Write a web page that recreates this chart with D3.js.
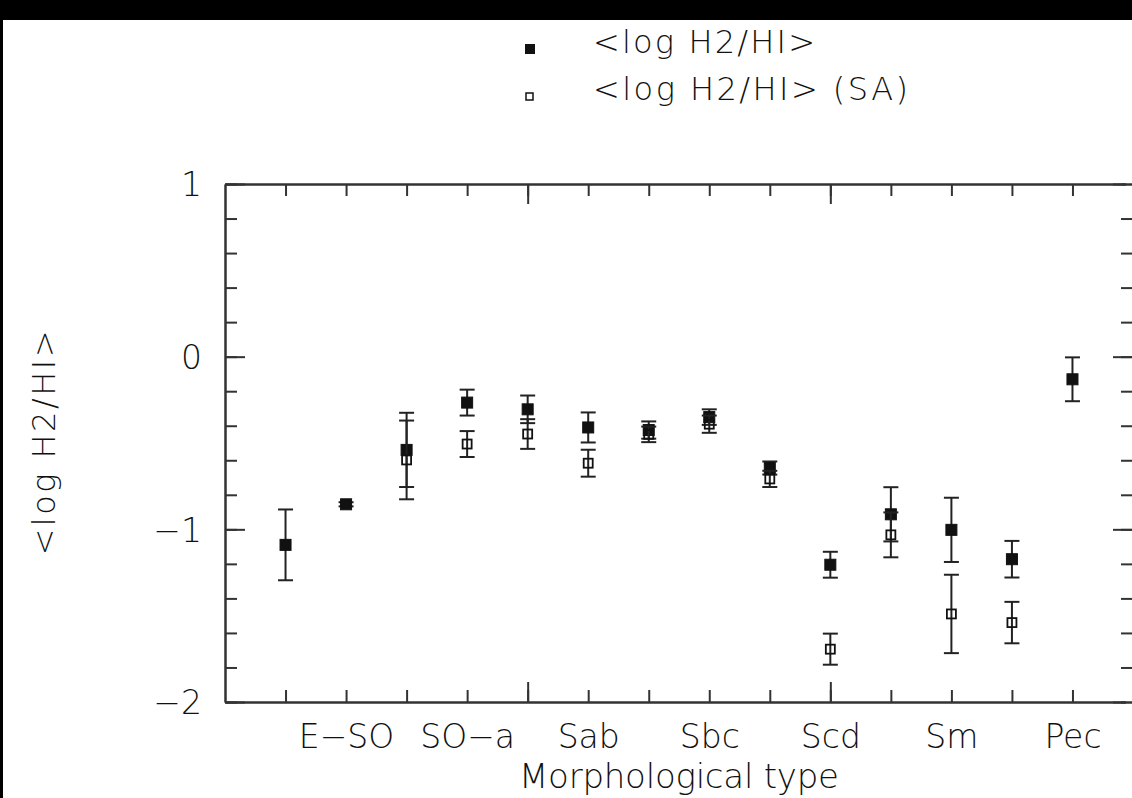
<!DOCTYPE html>
<html>
    <head>
        <title>log H2/HI by morphological type</title>
        <meta charset="utf-8">
        <script src="https://d3js.org/d3.v7.min.js"></script>
        <style>
            body{
                margin: 0;
                background: #fff;
                overflow: hidden;
            }
            svg{
                display: block;
            }
            svg text{
                font-family: 'DejaVu Sans', 'Liberation Sans', sans-serif;
                font-weight: 200;
                fill: #111;
            }
            .axis path, .axis line{
                stroke: #333;
                stroke-width: 2;
            }
        </style>
    </head>
    <body>
    <svg id="viz" width="1132" height="798"></svg>
    <script>
        // morphological type index (1..14) and the labels under every second one
        var types = [1, 2, 3, 4, 5, 6, 7, 8, 9, 10, 11, 12, 13, 14];
        var labelPos = [2, 4, 6, 8, 10, 12, 14];
        var labelNames = ["E\u2212SO", "SO\u2212a", "Sab", "Sbc", "Scd", "Sm", "Pec"];

        // <log H2/HI>, all galaxies
        var meanVals = [-1.09, -0.855, -0.54, -0.266, -0.305, -0.41, -0.425, -0.35, -0.645, -1.205, -0.913, -1.003, -1.173, -0.131];
        var meanErr  = [0.205, 0.012, 0.215, 0.075, 0.08, 0.087, 0.05, 0.045, 0.038, 0.075, 0.157, 0.186, 0.106, 0.127];

        // <log H2/HI> (SA)
        var saTypes = [3, 4, 5, 6, 7, 8, 9, 10, 11, 12, 13];
        var saVals  = [-0.598, -0.506, -0.448, -0.617, -0.45, -0.391, -0.708, -1.694, -1.032, -1.49, -1.54];
        var saErr   = [0.228, 0.075, 0.086, 0.078, 0.045, 0.05, 0.047, 0.09, 0.13, 0.227, 0.12];

        var yMajor = [-2, -1, 0, 1];
        var xMajor = [5, 10];

        var svg = d3.select("#viz");
        // black frame of the original scan (top band + thin left strip)
        svg.append("rect").attr("x", 0).attr("y", 0).attr("width", 1132).attr("height", 20).attr("fill", "#000");
        svg.append("rect").attr("x", 0).attr("y", 0).attr("width", 3).attr("height", 798).attr("fill", "#000");

        var x = d3.scaleLinear().domain([0, 15]).range([225, 1133]);
        var y = d3.scaleLinear().domain([-2, 1]).range([702, 184]);
        var yMinor = d3.range(-2, 1.001, 0.2);

        // AXES

        function addAxis(axis, tx, ty){
            return svg.append("g")
                .attr("class", "axis")
                .attr("transform", "translate(" + tx + "," + ty + ")")
                .call(axis);
        }

        addAxis(d3.axisBottom(x).tickValues(types).tickSize(-12).tickSizeOuter(0).tickFormat(""), 0, y(-2));
        addAxis(d3.axisBottom(x).tickValues(xMajor).tickSize(-20).tickSizeOuter(0).tickFormat(""), 0, y(-2));
        addAxis(d3.axisTop(x).tickValues(types).tickSize(-12).tickSizeOuter(0).tickFormat(""), 0, y(1));
        addAxis(d3.axisTop(x).tickValues(xMajor).tickSize(-20).tickSizeOuter(0).tickFormat(""), 0, y(1));
        addAxis(d3.axisLeft(y).tickValues(yMinor).tickSize(-12).tickSizeOuter(0).tickFormat(""), x(0), 0);

        var yLab = addAxis(d3.axisLeft(y).tickValues(yMajor).tickSize(-20).tickSizeOuter(0).tickPadding(23).tickFormat(d3.format("d")), x(0), 0);
        yLab.selectAll("text").attr("font-size", 33).attr("dy", "0.36em");

        var xLab = addAxis(d3.axisBottom(x).tickValues(labelPos).tickSize(0).tickSizeOuter(0)
            .tickFormat(function(d){ return labelNames[labelPos.indexOf(d)]; }), 0, y(-2));
        xLab.select(".domain").remove();
        xLab.selectAll("text").attr("font-size", 33).attr("y", 46).attr("dy", 0);

        svg.append("text")
            .attr("x", x(7.5)).attr("y", 788)
            .attr("text-anchor", "middle")
            .attr("font-size", 34)
            .attr("textLength", 320)
            .text("Morphological type");

        svg.append("text")
            .attr("transform", "translate(55," + y(-0.5) + ") rotate(-90)")
            .attr("text-anchor", "middle")
            .attr("font-size", 32)
            .attr("textLength", 225)
            .text("<log H2/HI>");

        // ERROR BARS + MARKERS

        function series(xs, vals, errs, filled, size){
            var g = svg.append("g");
            var pts = g.selectAll(".pt").data(vals).enter().append("g")
                .attr("transform", function(d, i){ return "translate(" + x(xs[i]) + ",0)"; });
            pts.append("line")
                .attr("y1", function(d, i){ return y(d + errs[i]); })
                .attr("y2", function(d, i){ return y(d - errs[i]); })
                .attr("stroke", "#222").attr("stroke-width", 2);
            [1, -1].forEach(function(s){
                pts.append("line")
                    .attr("x1", -7.5).attr("x2", 7.5)
                    .attr("y1", function(d, i){ return y(d + s * errs[i]); })
                    .attr("y2", function(d, i){ return y(d + s * errs[i]); })
                    .attr("stroke", "#222").attr("stroke-width", 2);
            });
            pts.append("rect")
                .attr("x", -size / 2)
                .attr("y", function(d){ return y(d) - size / 2; })
                .attr("width", size).attr("height", size)
                .attr("fill", filled ? "#111" : "none")
                .attr("stroke", "#111")
                .attr("stroke-width", filled ? 1 : 1.8);
        }

        series(types, meanVals, meanErr, true, 11);
        series(saTypes, saVals, saErr, false, 9);

        // keep the right edge white, then the right axis ticks (its line is off the image)
        svg.append("rect").attr("x", 1126).attr("y", 20).attr("width", 6).attr("height", 778).attr("fill", "#fff");
        addAxis(d3.axisRight(y).tickValues(yMinor).tickSize(-12).tickSizeOuter(0).tickFormat(""), x(15), 0)
            .select(".domain").remove();
        addAxis(d3.axisRight(y).tickValues(yMajor).tickSize(-20).tickSizeOuter(0).tickFormat(""), x(15), 0)
            .select(".domain").remove();

        // LEGEND

        var legend = svg.append("g");
        legend.append("rect").attr("x", 525).attr("y", 44).attr("width", 10).attr("height", 10).attr("fill", "#111");
        legend.append("rect").attr("x", 526).attr("y", 93).attr("width", 7).attr("height", 7)
            .attr("fill", "none").attr("stroke", "#111").attr("stroke-width", 1.5);
        legend.append("text").attr("x", 593).attr("y", 53).attr("font-size", 32)
            .attr("textLength", 222).text("<log H2/HI>");
        legend.append("text").attr("x", 593).attr("y", 100).attr("font-size", 32)
            .attr("textLength", 315).text("<log H2/HI> (SA)");
    </script>
    </body>
</html>
